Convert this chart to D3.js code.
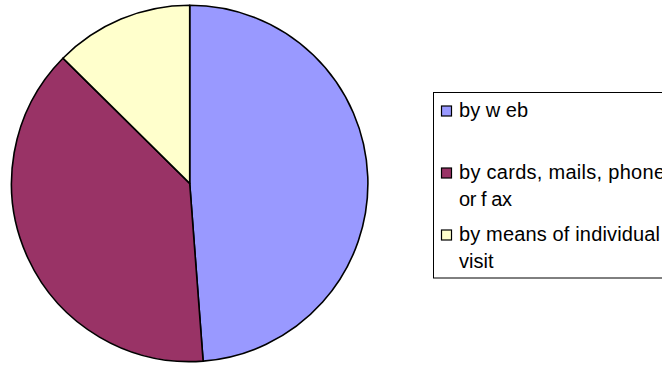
<!DOCTYPE html>
<html>
<head>
<meta charset="utf-8">
<script src="https://cdn.jsdelivr.net/npm/d3@7"></script>
<style>
  html, body { margin: 0; padding: 0; background: #fff; overflow: hidden; }
  svg { display: block; }
  text { font-family: Arial, "Liberation Sans", sans-serif; fill: #000; }
</style>
</head>
<body>
<svg id="chart" width="662" height="365"></svg>
<script>
const categories = ["by web", "by cards, mails, phone or fax", "by means of individual visit"];
const labelLines = [["by w eb"], ["by cards, mails, phone", "or f ax"], ["by means of individual", "visit"]];
const lineWidths = [[69], [206, 53], [201, null]];
const values = [48.8, 38.6, 12.6];
const colors = ["#9999FF", "#993366", "#FFFFCC"];

const svg = d3.select("#chart");

const cx = 189.7, cy = 183.4, r = 178.2;

const pie = d3.pie().sort(null).value(d => d).startAngle(0).endAngle(2 * Math.PI);
const arc = d3.arc().innerRadius(0).outerRadius(r);
const color = d3.scaleOrdinal().domain(d3.range(categories.length)).range(colors);

const g = svg.append("g").attr("transform", `translate(${cx},${cy})`);
g.selectAll("path")
  .data(pie(values))
  .join("path")
  .attr("d", arc)
  .attr("fill", (d, i) => color(i))
  .attr("stroke", "#000")
  .attr("stroke-width", 1.6)
  .attr("stroke-linejoin", "round");

// Legend
const lx = 433.5, ly = 92.5, lw = 260, lh = 185.5;
svg.append("rect")
  .attr("x", lx).attr("y", ly).attr("width", lw).attr("height", lh)
  .attr("fill", "#fff").attr("stroke", "#000").attr("stroke-width", 1);

const yScale = d3.scalePoint().domain(d3.range(categories.length)).range([117, 241]);

const items = svg.selectAll("g.leg")
  .data(categories)
  .join("g")
  .attr("class", "leg")
  .attr("transform", (d, i) => `translate(0,${yScale(i)})`);

items.append("rect")
  .attr("x", 441.5).attr("y", -11).attr("width", 10).attr("height", 10)
  .attr("fill", (d, i) => color(i))
  .attr("stroke", "#000").attr("stroke-width", 1.2);

items.each(function(d, i) {
  const lines = labelLines[i].map((t, j) => ({ t, w: lineWidths[i][j], j }));
  d3.select(this).selectAll("text")
    .data(lines)
    .join("text")
    .attr("x", 459)
    .attr("y", l => l.j * 26.5)
    .style("font-size", "20px")
    .each(function(l) {
      if (l.w) d3.select(this).attr("textLength", l.w).attr("lengthAdjust", "spacing");
    })
    .text(l => l.t);
});
</script>
</body>
</html>
